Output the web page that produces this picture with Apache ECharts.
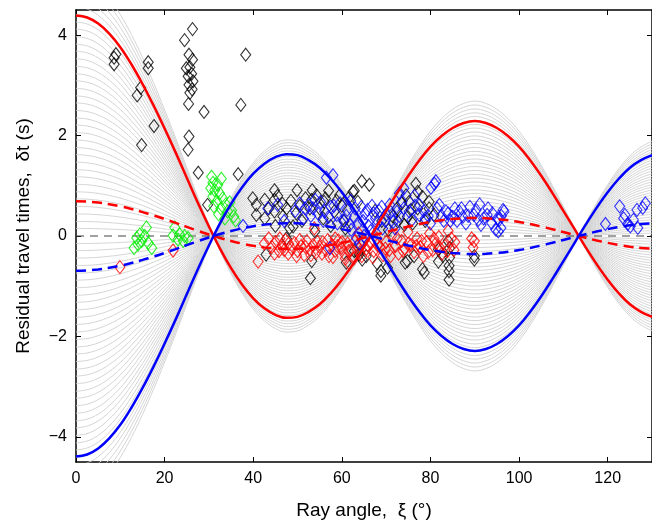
<!DOCTYPE html>
<html>
<head>
<meta charset="utf-8">
<script src="https://cdn.jsdelivr.net/npm/echarts@6/dist/echarts.min.js"></script>
<style>
html,body{margin:0;padding:0;background:#fff;}
#chart{width:652px;height:525px;}
</style>
</head>
<body>
<div id="chart"></div>
<script>
// Ray angle samples (degrees)
const xiSamples = [0,2.5,5,7.5,10,12.5,15,17.5,20,22.5,25,27.5,30,32.5,35,37.5,40,42.5,45,47.5,50,52.5,55,57.5,60,62.5,65,67.5,70,72.5,75,77.5,80,82.5,85,87.5,90,92.5,95,97.5,100,102.5,105,107.5,110,112.5,115,117.5,120,122.5,125,127.5,130];
// Red solid model curve (s)
const shapeValues = [4.39,4.35,4.23,4.03,3.76,3.42,3.03,2.60,2.14,1.66,1.16,0.66,0.19,-0.25,-0.64,-0.97,-1.24,-1.44,-1.57,-1.63,-1.61,-1.51,-1.36,-1.14,-0.87,-0.56,-0.22,0.14,0.50,0.86,1.20,1.51,1.78,1.99,2.15,2.25,2.29,2.25,2.15,1.99,1.78,1.51,1.20,0.86,0.50,0.14,-0.22,-0.56,-0.87,-1.14,-1.36,-1.51,-1.61];
// Values of each curve at xi = 0 (s)
const redSolidLevel = 4.39;
const blueSolidLevel = -4.39;
const redDashedLevel = 0.69;
const blueDashedLevel = -0.69;
const grayLevels = [-5.15,-5.00,-4.85,-4.70,-4.56,-4.41,-4.26,-4.12,-3.97,-3.82,-3.68,-3.53,-3.38,-3.23,-3.09,-2.94,-2.79,-2.65,-2.50,-2.35,-2.21,-2.06,-1.91,-1.76,-1.62,-1.47,-1.32,-1.18,-1.03,-0.88,-0.74,-0.59,-0.44,-0.29,-0.15,0.15,0.29,0.44,0.59,0.74,0.88,1.03,1.18,1.32,1.47,1.62,1.76,1.91,2.06,2.21,2.35,2.50,2.65,2.79,2.94,3.09,3.23,3.38,3.53,3.68,3.82,3.97,4.12,4.26,4.41,4.56,4.70,4.85,5.00,5.15];

const xTicks = [0,20,40,60,80,100,120];
const yTicks = [-4,-2,0,2,4];

const blackPoints = [[8.6,3.55],[9.0,3.62],[8.6,3.42],[16.3,3.46],[16.3,3.34],[14.6,2.95],[13.8,2.80],[17.6,2.19],[14.8,1.81],
[26.3,4.12],[24.5,3.90],[25.5,3.61],[26.3,3.51],[24.9,3.34],[25.7,3.36],[26.1,3.23],[25.3,3.18],[26.4,3.08],[25.5,3.01],[26.2,2.92],[25.7,2.85],[25.4,2.63],[28.9,2.47],[38.3,3.61],[37.2,2.61],[25.5,1.98],[25.3,1.72],[27.6,1.26],[29.7,0.62],
[36.6,1.23],[39.9,0.75],[42.6,0.72],[44.8,0.91],[44.8,0.72],[46.6,0.64],[49.9,0.91],[53.3,0.91],[51.8,0.75],[54.3,0.81],[56.3,0.75],[62.5,0.88],[64.5,1.09],[66.2,1.02],[40.7,0.42],[42.6,0.35],[48.2,0.16],[40.7,0.62],[44.8,0.49],[46.7,0.39],[49.7,0.45],[52.8,0.55],[53.2,0.72],[56.0,0.68],[49.0,0.19],[42.9,-0.37],[53.2,-0.50],[52.9,-0.84],[53.9,0.09],[59.5,0.81],[58.3,0.49],[63.6,0.68],[63.9,-0.37],[61.0,-0.53],[64.6,-0.47],
[76.7,1.04],[77.1,0.88],[78.2,0.78],[79.7,0.68],[75.2,0.68],[75.6,0.52],[77.1,0.55],[79.7,0.55],[80.8,0.42],[74.8,0.39],[74.1,0.22],[72.6,0.29],[71.5,0.39],[74.5,0.81],[65.5,-0.40],[68.8,-0.70],[68.8,-0.79],[70.3,-0.63],[74.8,-0.50],[76.3,-0.40],[78.2,-0.66],[78.6,-0.73],[81.8,-0.27],[84.0,-0.10],[84.3,-0.24],[84.3,-0.43],[84.2,-0.59],[84.2,-0.70],[84.2,-0.87],[89.9,-0.40],[89.9,-0.47],[62.8,-0.30],[81.8,-0.51],[74.3,-0.53],
[62.8,0.90],[60.5,0.30],[57.5,0.20],[67.5,0.50],[69.0,0.30],[70.5,0.12],
[43.5,0.55],[45.5,0.80],[47.5,0.55],[48.5,0.70],[50.5,0.60],[51.0,0.30],[55.0,0.55],[57.0,0.90],[58.8,0.70],[60.0,0.60],[61.5,0.75],[60.8,0.15],[47.5,-0.05],[45.0,0.20],[55.8,0.35],[72.5,0.55],[73.5,0.65],[76.0,0.25],[78.8,0.30],[68.0,-0.55],[82.8,-0.40]];

const greenPoints = [[15.9,0.17],[14.4,0.03],[13.7,-0.04],[15.5,0.00],[16.3,-0.14],[13.1,-0.24],[14.8,-0.10],[14.0,-0.17],[17.1,-0.24],
[22.3,0.17],[21.9,0.01],[23.4,0.03],[24.5,0.00],[24.2,-0.10],[25.3,-0.04],[23.0,-0.07],
[30.6,1.18],[30.9,1.06],[30.4,0.95],[31.3,0.91],[30.9,0.79],[32.0,1.02],[32.4,0.85],[33.1,0.75],[31.8,0.69],[31.1,0.59],[32.7,0.55],[33.8,0.63],[34.2,0.49],[35.1,0.51],[32.2,0.43],[33.6,0.35],[35.6,0.39],[36.0,0.31],[34.7,0.67],[32.8,1.14]];

const redPoints = [[9.9,-0.62],[21.9,-0.29],[41.1,-0.51],
[43.5,-0.05],[44.2,-0.22],[45.0,-0.12],[45.8,-0.30],[46.5,-0.18],[47.3,-0.08],[47.9,-0.35],[48.6,-0.25],[49.3,-0.14],[50.0,-0.30],[50.8,-0.20],[51.5,-0.38],[52.1,-0.10],[52.8,-0.27],[53.5,-0.18],[54.2,-0.33],[55.0,-0.22],[55.7,-0.12],[56.4,-0.28],[57.1,-0.40],[57.8,-0.18],[58.5,-0.30],[59.2,-0.09],[59.9,-0.24],[60.6,-0.36],[61.3,-0.15],[62.0,-0.28],[62.7,-0.45],[63.4,-0.20],[64.1,-0.32],[64.8,-0.10],[65.5,-0.26],[53.8,0.15],[60.8,-0.45],[61.7,-0.55],
[66.5,-0.15],[67.2,-0.30],[67.9,-0.05],[68.6,-0.22],[69.3,-0.38],[70.0,-0.12],[70.7,-0.28],[71.4,0.02],[72.1,-0.20],[72.8,-0.35],[73.5,-0.10],[74.2,-0.25],[74.9,0.08],[75.6,-0.18],[76.3,-0.32],[77.0,-0.05],[77.7,-0.22],[78.4,-0.40],[79.1,-0.12],[79.8,0.05],[80.5,-0.28],[81.2,-0.15],[81.9,-0.02],[82.6,-0.35],[83.3,-0.20],[84.0,0.10],[84.7,-0.05],[85.3,-0.28],[89.3,-0.05],[89.9,-0.10],[89.6,-0.23],
[42.5,-0.15],[44.8,-0.35],[46.0,-0.05],[47.0,-0.28],[48.0,-0.15],[49.8,-0.40],[50.5,-0.08],[51.8,-0.22],[53.0,-0.38],[54.5,-0.12],[55.5,-0.35],[56.8,-0.08],[58.0,-0.42],[59.0,-0.20],[60.0,-0.12],[61.5,-0.30],[63.0,-0.10],[64.5,-0.40],[65.8,-0.18],[67.0,-0.42],[68.0,-0.18],[69.8,-0.25],[71.0,-0.40],[72.5,-0.05],[73.8,-0.30],[75.0,-0.15],[76.8,-0.20],[78.0,-0.10],[79.5,-0.32],[80.8,-0.05],[82.0,-0.22],[83.8,-0.30],[85.5,-0.12],[58.5,-0.05],[63.8,0.05]];

const bluePoints = [[37.7,0.20],[43.3,0.55],[56.5,1.16],[58.0,1.21],[51.7,0.55],[51.3,0.35],[53.5,0.55],[54.6,0.45],[56.1,0.49],[57.3,-0.24],[62.1,0.12],[63.3,-0.04],
[52.5,0.62],[55.2,0.68],[57.5,0.58],[58.8,0.42],[59.6,0.65],[60.4,0.30],[61.2,0.52],[62.0,0.70],[62.8,0.38],[63.6,0.25],[64.4,0.58],[65.2,0.45],[66.0,0.20],[66.8,0.60],[67.6,0.35],[68.4,0.50],[69.2,0.15],[70.0,0.42],[70.8,0.62],[71.6,0.28],[72.4,0.48],[73.6,0.69],[75.2,0.49],[77.5,0.62],[77.5,0.42],[80.1,0.96],[80.9,1.04],[81.2,1.09],[78.8,0.35],[80.0,0.25],[81.5,0.55],[82.5,0.40],[83.5,0.49],[84.5,0.30],[85.5,0.55],[86.5,0.49],[87.3,0.38],[88.0,0.25],[88.9,0.58],[89.8,0.42],[91.1,0.63],[91.4,0.22],[92.0,0.35],[92.8,0.42],[93.8,0.26],[94.7,0.13],[95.1,0.35],[95.3,0.09],[95.5,0.32],[95.9,0.16],[96.4,0.52],[96.6,0.49],[64.0,-0.15],[65.0,0.00],
[45.5,0.62],[47.0,0.30],[49.5,0.50],[50.5,0.65],[53.0,0.40],[54.0,0.72],[55.8,0.30],[57.0,0.38],[58.2,0.60],[59.0,0.25],[61.0,0.40],[61.8,0.22],[63.0,0.55],[64.8,0.30],[65.8,0.52],[66.5,0.10],[67.2,0.45],[68.0,0.25],[69.0,0.58],[69.8,0.30],[71.0,0.48],[72.0,0.15],[73.0,0.40],[74.0,0.55],[75.8,0.32],[76.5,0.60],[78.5,0.50],[79.5,0.40],[82.0,0.62],[83.0,0.30],[84.0,0.45],[85.0,0.38],[86.0,0.30],[87.0,0.55],[88.5,0.40],[90.3,0.52],[90.8,0.32],[93.0,0.55],[94.0,0.45],[96.0,0.40],[73.0,0.85],[74.0,0.95],[76.4,0.80],
[119.5,0.24],[122.7,0.59],[123.6,0.35],[123.9,0.42],[124.5,0.24],[125.1,0.19],[125.8,0.32],[126.6,0.52],[126.8,0.16],[127.9,0.56],[128.5,0.65]];

const FONT = 'Liberation Sans, Arial, Helvetica, sans-serif';

function curve(level) {
  const s = level / shapeValues[0];
  return xiSamples.map((x, i) => [x, shapeValues[i] * s]);
}
function minusFmt(v) { return String(v).replace('-', '\u2212'); }

const series = [];
grayLevels.forEach(lv => {
  series.push({type:'line', data: curve(lv), showSymbol:false, smooth:0.4, silent:true, z:1,
    lineStyle:{color:'#d4d4d4', width:1}});
});
series.push({type:'line', data: xiSamples.map(x => [x, 0]), showSymbol:false, silent:true, z:2,
  lineStyle:{color:'#444', width:1.2, type:[8,6]}});
function scatter(pts, color) {
  return {type:'scatter', data: pts, symbol:'diamond', symbolSize:[10,13], silent:true, z:3,
    itemStyle:{color:'rgba(0,0,0,0)', borderColor: color, borderWidth:1.1}};
}
series.push(scatter(blackPoints, '#000'));
series.push(scatter(greenPoints, '#00ee00'));
series.push(scatter(redPoints, '#ff0000'));
series.push(scatter(bluePoints, '#0000ff'));
series.push({type:'line', data: curve(redDashedLevel), showSymbol:false, smooth:0.4, silent:true, z:4,
  lineStyle:{color:'#ff0000', width:2.5, type:[10,6]}});
series.push({type:'line', data: curve(blueDashedLevel), showSymbol:false, smooth:0.4, silent:true, z:4,
  lineStyle:{color:'#0000ff', width:2.5, type:[10,6]}});
series.push({type:'line', data: curve(redSolidLevel), showSymbol:false, smooth:0.4, silent:true, z:5,
  lineStyle:{color:'#ff0000', width:2.5}});
series.push({type:'line', data: curve(blueSolidLevel), showSymbol:false, smooth:0.4, silent:true, z:5,
  lineStyle:{color:'#0000ff', width:2.5}});

const axisLine = {show:true, onZero:false, lineStyle:{color:'#000', width:1.5}};
const tick = {show:true, inside:true, length:5, lineStyle:{color:'#000', width:1}};

const chart = echarts.init(document.getElementById('chart'), null, {renderer:'canvas'});
chart.setOption({
  animation:false,
  backgroundColor:'#fff',
  grid:{left:76, top:10, width:577, height:456, containLabel:false},
  xAxis:[
    {type:'value', min:0, max:130, interval:20, position:'bottom', axisLine, axisTick:tick,
     axisLabel:{color:'#000', fontSize:16, fontFamily:FONT, margin:9, customValues:xTicks},
     splitLine:{show:false},
     name:'Ray angle,  \u03be (\u00b0)', nameLocation:'middle', nameGap:39,
     nameTextStyle:{color:'#000', fontSize:19, fontFamily:FONT}},
    {type:'value', min:0, max:130, interval:20, position:'top', axisLine, axisTick:tick,
     axisLabel:{show:false}, splitLine:{show:false}}
  ],
  yAxis:[
    {type:'value', min:-4.5, max:4.5, position:'left', axisLine,
     axisTick:Object.assign({}, tick, {customValues:yTicks}),
     axisLabel:{color:'#000', fontSize:16, fontFamily:FONT, margin:9, customValues:yTicks, formatter:minusFmt},
     splitLine:{show:false},
     name:'Residual travel times,  \u03b4t (s)', nameLocation:'middle', nameGap:43,
     nameTextStyle:{color:'#000', fontSize:19, fontFamily:FONT}},
    {type:'value', min:-4.5, max:4.5, position:'right', axisLine,
     axisTick:Object.assign({}, tick, {customValues:yTicks}),
     axisLabel:{show:false}, splitLine:{show:false}}
  ],
  series
});
</script>
</body>
</html>
